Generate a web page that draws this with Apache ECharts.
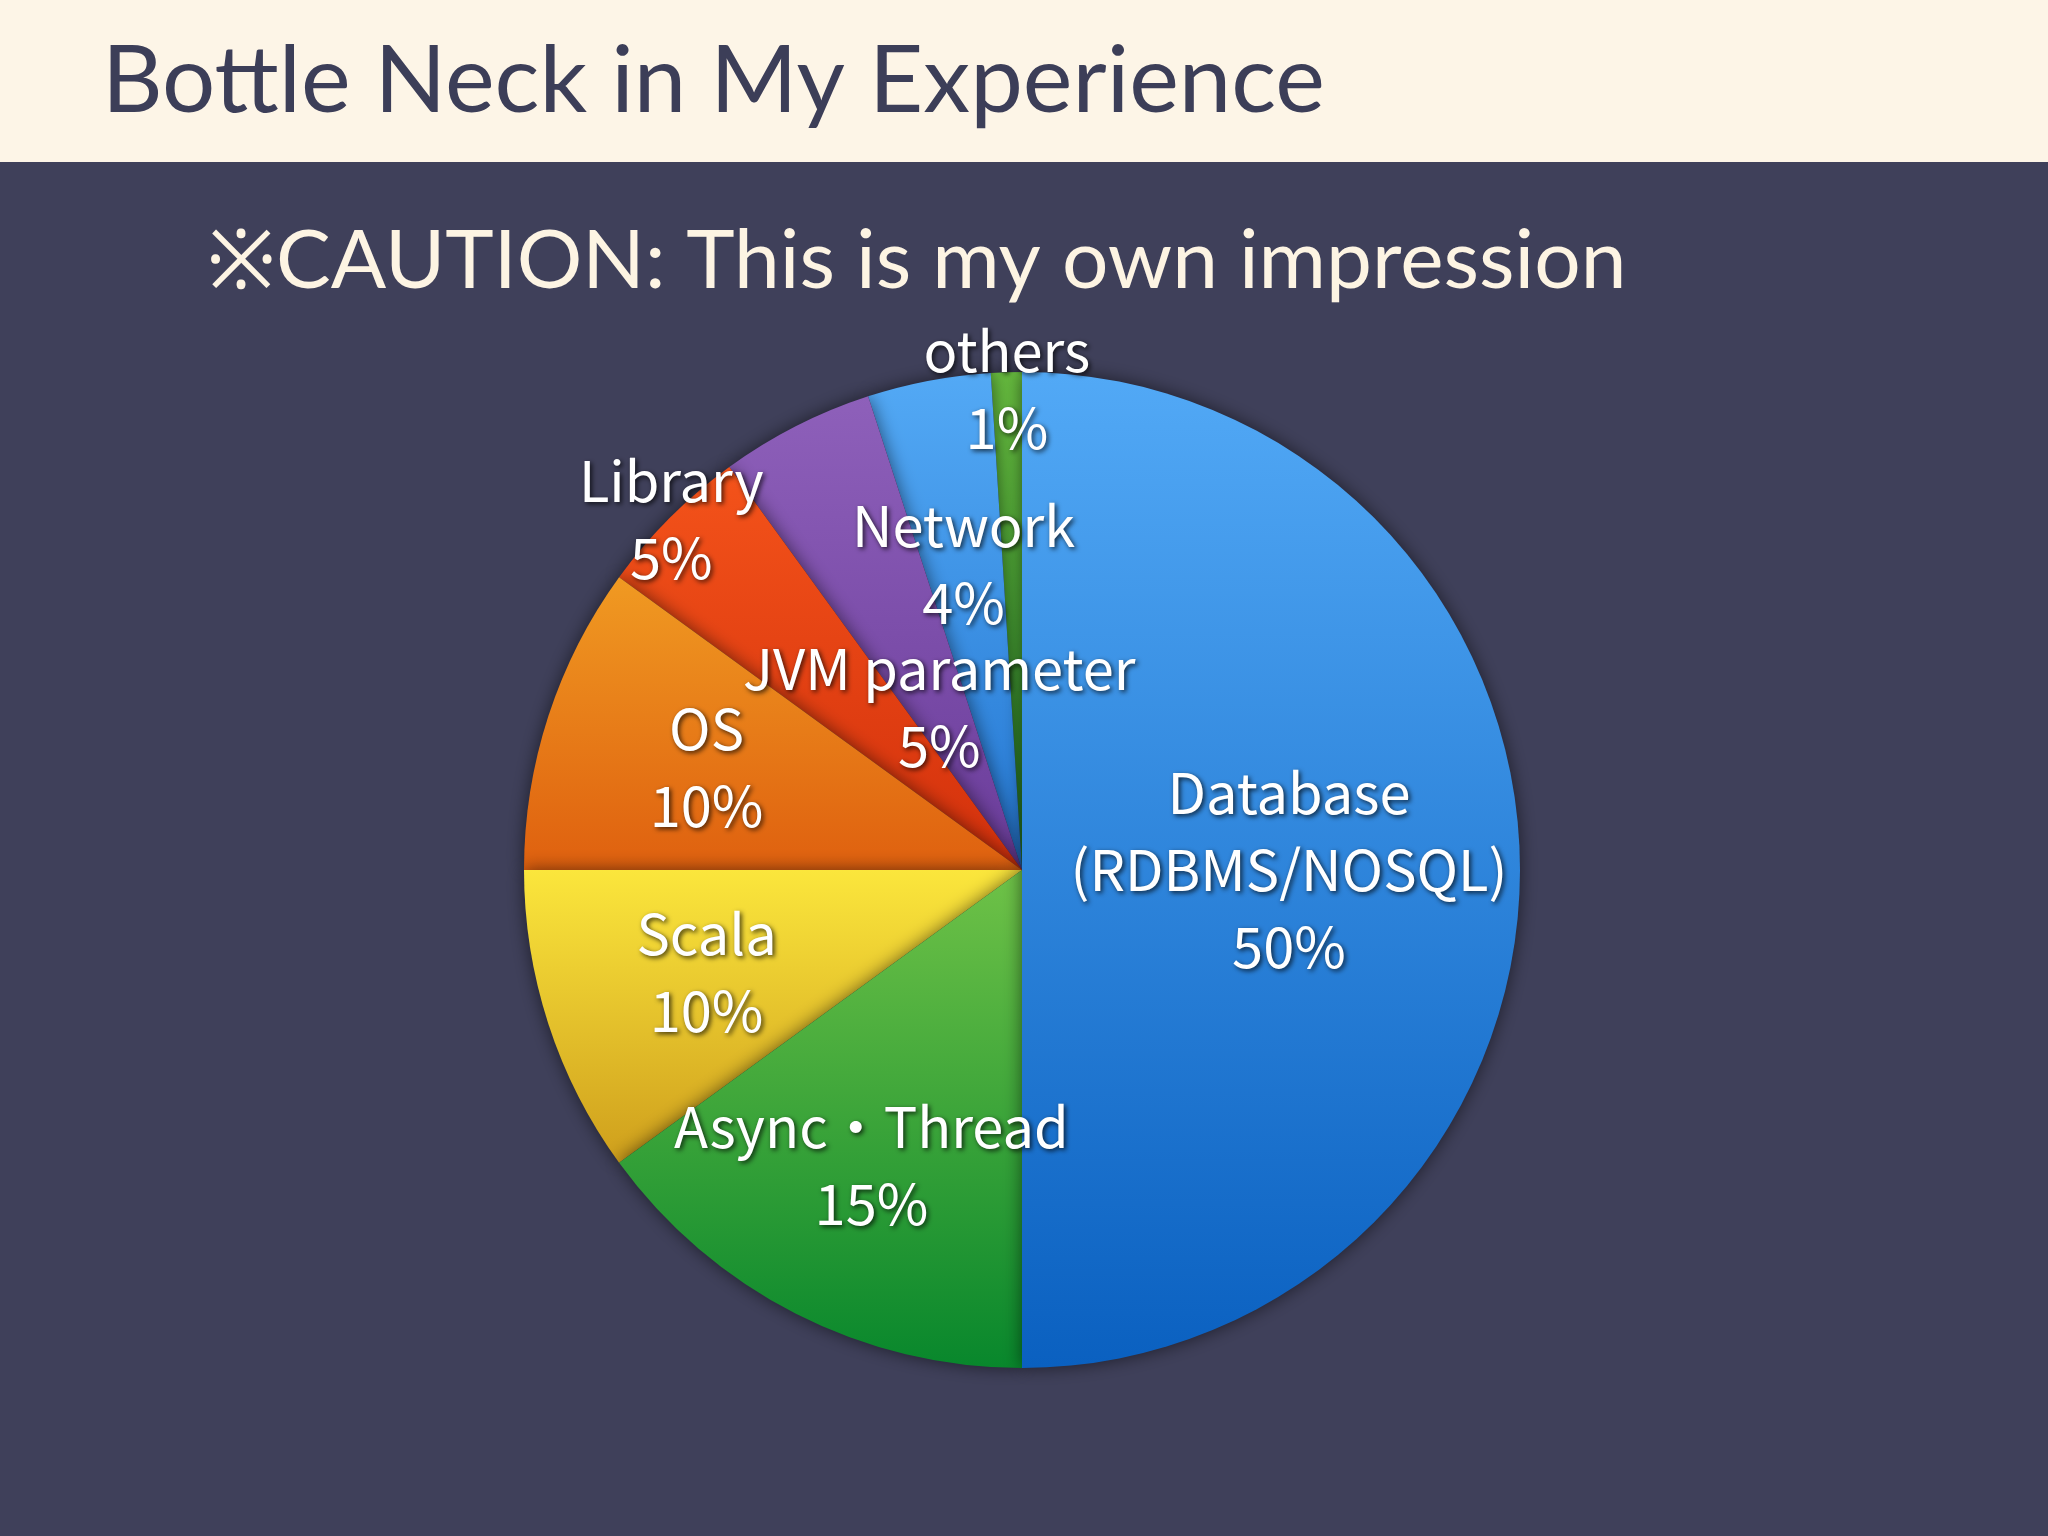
<!DOCTYPE html>
<html lang="en" style="height: 100%">
<head>
    <meta charset="UTF-8">
    <title>Bottle Neck in My Experience</title>
    <script src="https://cdn.jsdelivr.net/npm/echarts@6/dist/echarts.min.js"></script>
</head>
<body style="height: 100%; margin: 0;">
    <div id="main" style="width: 2048px; height: 1536px"></div>
    <script>
        // slices, clockwise from 12 o'clock
        var categories = ['Database\n(RDBMS/NOSQL)', 'Async・Thread', 'Scala', 'OS', 'Library', 'JVM parameter', 'Network', 'others'];
        var shares = [50, 15, 10, 10, 5, 5, 4, 1];

        // top / bottom colour of each slice
        var sliceColors = [
            ['#52a9f6', '#0a60c0'],
            ['#6fc247', '#08872c'],
            ['#fbe63c', '#cf9f1c'],
            ['#f09a22', '#df600f'],
            ['#f4531a', '#d3300c'],
            ['#8e60ba', '#6a3c9a'],
            ['#53a9f5', '#2477d2'],
            ['#66ba3e', '#2a8a2a']
        ];
        // where each label sits, as a part of the radius
        var labelRadius = [0.53, 0.66, 0.66, 0.66, 0.99, 0.36, 0.62, 0.96];

        var R = 498;
        var C = [1022, 870];

        var myChart = echarts.init(document.getElementById('main'));

        function grad(c) {
            return new echarts.graphic.LinearGradient(0, 0, 0, 1, [
                { offset: 0, color: c[0] },
                { offset: 1, color: c[1] }
            ]);
        }

        // drawn in reverse so every slice throws its shadow on the next one clockwise
        var sliceData = [];
        for (var i = categories.length - 1; i >= 0; i--) {
            sliceData.push({
                name: categories[i],
                value: shares[i],
                itemStyle: { color: grad(sliceColors[i]) }
            });
        }

        var series = [{
            type: 'pie',
            center: C,
            radius: R,
            startAngle: 90,
            clockwise: false,
            silent: true,
            label: { show: false },
            labelLine: { show: false },
            itemStyle: {
                borderWidth: 0,
                shadowBlur: 18,
                shadowColor: 'rgba(0,0,0,0.55)'
            },
            data: sliceData
        }];

        // one see-through ring per label, so each label can sit at its own distance
        categories.forEach(function (name, i) {
            var r = labelRadius[i] * R;
            series.push({
                type: 'pie',
                center: C,
                radius: [r - 8, r + 8],
                startAngle: 90,
                clockwise: true,
                silent: true,
                avoidLabelOverlap: false,
                labelLayout: { hideOverlap: false },
                labelLine: { show: false },
                itemStyle: { color: 'rgba(0,0,0,0)', borderWidth: 0 },
                label: {
                    position: 'inside',
                    formatter: '{b}\n{c}%',
                    color: '#ffffff',
                    fontFamily: 'Noto Sans CJK JP',
                    fontSize: 56,
                    lineHeight: 77,
                    textBorderWidth: 0,
                    textShadowColor: 'rgba(0,0,0,0.75)',
                    textShadowBlur: 5,
                    textShadowOffsetX: 2,
                    textShadowOffsetY: 2
                },
                data: categories.map(function (n, j) {
                    return { name: n, value: shares[j], label: { show: j === i } };
                })
            });
        });

        var option = {
            animation: false,
            backgroundColor: '#3f405a',
            graphic: [{
                type: 'rect',
                left: 0,
                top: 0,
                shape: { width: 2048, height: 162 },
                style: { fill: '#fdf5e7' }
            }],
            title: [{
                text: 'Bottle Neck in My Experience',
                left: 102,
                top: 35,
                padding: 0,
                textStyle: { fontFamily: 'Lato', fontWeight: 400, fontSize: 94, color: '#3c3e58' }
            }, {
                text: '※CAUTION: This is my own impression',
                left: 207,
                top: 221,
                padding: 0,
                textStyle: { fontFamily: 'Lato', fontWeight: 400, fontSize: 82, color: '#fdf4e3' }
            }],
            series: series
        };

        myChart.setOption(option);
    </script>
</body>
</html>
